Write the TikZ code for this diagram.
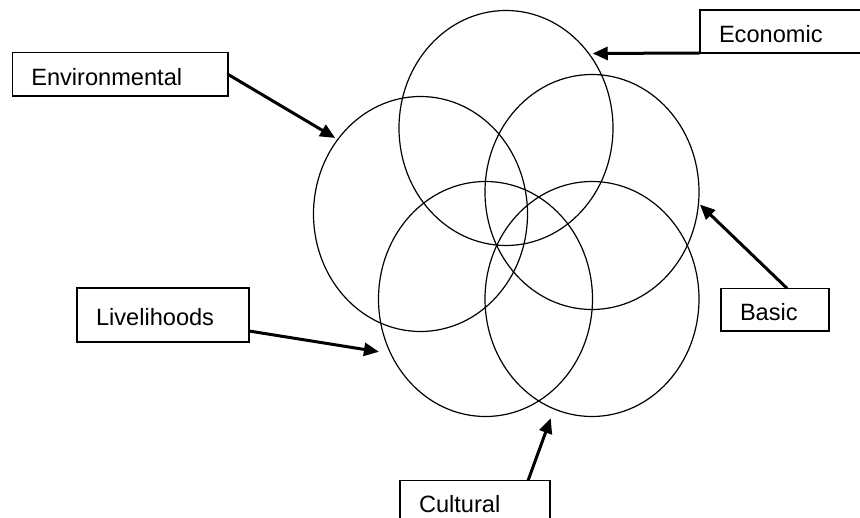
\documentclass[tikz,border=0pt]{standalone}
\usepackage{fontspec}
\setmainfont{Liberation Sans}
\usetikzlibrary{shapes.geometric,arrows.meta}
\begin{document}
\begin{tikzpicture}[x=1pt,y=-1pt,
  ring/.style={ellipse, draw, line width=1.2pt, minimum width=214pt, minimum height=235pt, inner sep=0pt, outer sep=0pt},
  lbox/.style={draw, line width=1.3pt, anchor=north west, inner xsep=19pt, inner ysep=0pt, text height=21.6pt, text depth=0pt, align=left, outer sep=0pt, font=\fontsize{23.6}{28}\selectfont},
  arr/.style={line width=3pt, -{Triangle[length=15pt,width=13pt]}}]
\useasboundingbox (0,0) rectangle (860,518);
\clip (0,0) rectangle (860,518);
% circles
\node[ring] (c1) at (506,128) {};
\node[ring] (c2) at (420.5,214) {};
\node[ring] (c3) at (592,192) {};
\node[ring] (c4) at (485.5,299) {};
\node[ring] (c5) at (592,299) {};
% label boxes
\node[lbox, text width=177.7pt, minimum height=43.3pt] (env) at (12.3,52.7) {Environmental};
\node[lbox, text width=142pt, minimum height=43pt] (econ) at (700,10) {Economic};
\node[lbox, text width=70pt, minimum height=42.7pt] (basic) at (721,288.3) {Basic};
\node[lbox, text width=134pt, minimum height=54pt] (live) at (77,288) {Livelihoods};
\node[lbox, text width=112pt, minimum height=41pt] (cult) at (400,480.7) {Cultural};
% arrows
\draw[arr, shorten >=3pt] (env.east) -- (c2.138);
\draw[arr, shorten >=4pt] (econ.south west) -- (c1.42);
\draw[arr, shorten >=2pt] ([xshift=12pt]basic.north) -- (c3.-6);
\draw[arr, shorten >=12pt] ([yshift=11pt]live.south east) -- (c4.210);
\draw[arr, shorten >=10pt] ([xshift=-22pt]cult.north east) -- (c5.251);
\end{tikzpicture}
\end{document}
